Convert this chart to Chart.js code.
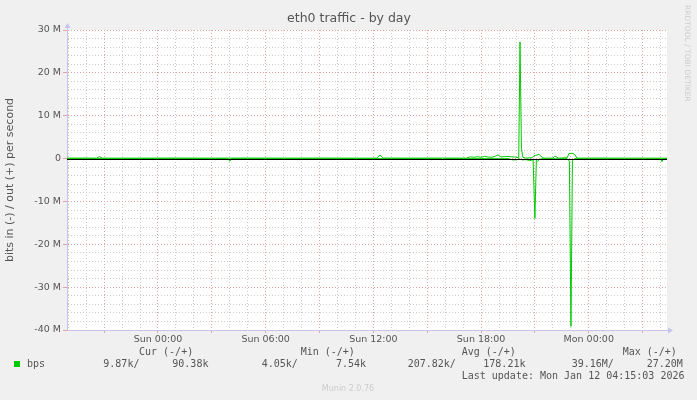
<!DOCTYPE html>
<html>
<head>
<meta charset="utf-8">
<title>eth0 traffic - by day</title>
<script src="https://cdn.jsdelivr.net/npm/chart.js@4.4.1/dist/chart.umd.min.js"></script>
<style>
    html, body { margin: 0; padding: 0; background: #f0f0f0; }
    #wrap { width: 697px; height: 400px; }
</style>
</head>
<body>
<div id="wrap"><canvas id="traffic" width="697" height="400"></canvas></div>
<script>
// hours relative to Sun 00:00, values in Mbit/s
const outHours = [-5.07, -4.0, -3.4, -3.26, -3.1, -1.0, 1.0, 3.0, 5.0, 7.0, 9.0, 11.0, 12.2, 12.37, 12.55, 14.0, 16.0, 17.2, 17.4, 17.6, 17.8, 18.0, 18.2, 18.4, 18.6, 18.8, 18.94, 19.1, 19.3, 19.5, 19.7, 19.9, 20.1, 20.17, 20.25, 20.33, 20.5, 20.7, 20.85, 20.95, 21.05, 21.23, 21.34, 21.5, 22.0, 22.1, 22.17, 22.3, 22.8, 22.9, 23.12, 23.23, 23.34, 24.5, 26.0, 28.36];
const outValues = [0.1, 0.12, 0.1, 0.45, 0.1, 0.1, 0.12, 0.1, 0.12, 0.1, 0.12, 0.1, 0.1, 0.85, 0.12, 0.1, 0.12, 0.1, 0.4, 0.3, 0.45, 0.3, 0.5, 0.35, 0.3, 0.55, 0.85, 0.4, 0.45, 0.5, 0.4, 0.35, 0.2, 27.2, 2.4, 0.3, 0.1, 0.15, 0.2, 0.7, 0.75, 1.0, 0.5, 0.1, 0.1, 0.5, 0.45, 0.1, 0.2, 1.2, 1.2, 0.9, 0.1, 0.12, 0.1, 0.09];

const inHours = [-5.07, 3.9, 4.0, 4.1, 15.8, 15.88, 15.96, 19.5, 19.75, 20.0, 20.1, 20.3, 20.5, 20.72, 20.9, 21.0, 21.08, 21.15, 21.25, 21.4, 22.8, 22.92, 23.01, 23.09, 23.2, 28.0, 28.08, 28.16, 28.36];
const inValues = [-0.02, -0.02, -0.6, -0.02, -0.02, -0.3, -0.02, -0.02, -0.3, -0.3, -0.05, -0.3, -0.25, -0.45, -0.3, -14.0, -0.4, -0.6, -0.2, -0.05, -0.05, -0.6, -39.16, -0.5, -0.05, -0.05, -0.7, -0.05, -0.05];

const xLabelHours = [0, 6, 12, 18, 24];
const xLabels = ["Sun 00:00", "Sun 06:00", "Sun 12:00", "Sun 18:00", "Mon 00:00"];
const yLabelValues = [30, 20, 10, 0, -10, -20, -30, -40];
const yLabels = ["30 M", "20 M", "10 M", "0", "-10 M", "-20 M", "-30 M", "-40 M"];

const legendHeaders = ["Cur (-/+)", "Min (-/+)", "Avg (-/+)", "Max (-/+)"];
const legendIn = ["9.87k/", "4.05k/", "207.82k/", "39.16M/"];
const legendOut = ["90.38k", "7.54k", "178.21k", "27.20M"];

const GREEN = "#00cc00";
const TEXT = "#555555";
const AXIS = "#c4c4ee";
const MAJOR = "#e3a3a3";
const MINOR = "#cbcbcb";
const MONO = "'DejaVu Sans Mono'";

const toPoints = (xs, ys) => xs.map((x, i) => ({ x: x, y: ys[i] }));

const muninDecor = {
    id: "muninDecor",
    beforeDraw(chart) {
        const { ctx, chartArea: a } = chart;
        ctx.save();
        ctx.fillStyle = "#f0f0f0";
        ctx.fillRect(0, 0, chart.width, chart.height);
        ctx.fillStyle = "#ffffff";
        ctx.fillRect(a.left, a.top, a.right - a.left, a.bottom - a.top);
        ctx.restore();
    },
    afterDatasetsDraw(chart) {
        const { ctx, chartArea: a, scales } = chart;
        const y0 = Math.round(scales.y.getPixelForValue(0)) + 0.5;
        ctx.save();
        ctx.strokeStyle = "#000000";
        ctx.lineWidth = 1;
        ctx.beginPath();
        ctx.moveTo(a.left, y0);
        ctx.lineTo(a.right, y0);
        ctx.stroke();
        ctx.restore();
    },
    afterDraw(chart) {
        const { ctx, chartArea: a } = chart;
        ctx.save();

        // axis arrows
        ctx.strokeStyle = AXIS;
        ctx.fillStyle = AXIS;
        ctx.lineWidth = 1;
        ctx.beginPath();
        ctx.moveTo(a.left + 0.5, a.top);
        ctx.lineTo(a.left + 0.5, a.top - 4);
        ctx.moveTo(a.right, a.bottom + 0.5);
        ctx.lineTo(a.right + 3, a.bottom + 0.5);
        ctx.stroke();
        ctx.beginPath();
        ctx.moveTo(a.left - 2.5, a.top - 2);
        ctx.lineTo(a.left + 3.5, a.top - 2);
        ctx.lineTo(a.left + 0.5, a.top - 7);
        ctx.closePath();
        ctx.fill();
        ctx.beginPath();
        ctx.moveTo(a.right + 1, a.bottom - 2.5);
        ctx.lineTo(a.right + 1, a.bottom + 3.5);
        ctx.lineTo(a.right + 6, a.bottom + 0.5);
        ctx.closePath();
        ctx.fill();

        // title
        ctx.fillStyle = TEXT;
        ctx.textBaseline = "middle";
        ctx.textAlign = "center";
        ctx.font = "12.5px 'DejaVu Sans'";
        ctx.fillText("eth0 traffic - by day", 349, 19);

        // watermark
        ctx.save();
        ctx.translate(687, 5);
        ctx.rotate(Math.PI / 2);
        ctx.textAlign = "left";
        ctx.fillStyle = "#cccccc";
        ctx.font = "7.5px 'DejaVu Sans'";
        ctx.fillText("RRDTOOL / TOBI OETIKER", 0, 0);
        ctx.restore();

        // legend
        ctx.fillStyle = GREEN;
        ctx.fillRect(14, 361, 6, 6);
        ctx.fillStyle = TEXT;
        ctx.textAlign = "left";
        ctx.font = `10px ${MONO}`;
        ctx.fillText("bps", 27, 364);
        const headX = [139, 300.7, 461.7, 622.7];
        const inX = [103.3, 261.7, 407.7, 571.7];
        const outX = [172.3, 336, 483.3, 646.7];
        for (let i = 0; i < 4; i++) {
            ctx.fillText(legendHeaders[i], headX[i], 352);
            ctx.fillText(legendIn[i], inX[i], 364);
            ctx.fillText(legendOut[i], outX[i], 364);
        }
        ctx.fillText("Last update: Mon Jan 12 04:15:03 2026", 461.7, 376);

        ctx.textAlign = "center";
        ctx.fillStyle = "#cccccc";
        ctx.font = "8px 'DejaVu Sans'";
        ctx.fillText("Munin 2.0.76", 348, 389);

        ctx.restore();
    },
};

Chart.defaults.font.family = "'DejaVu Sans'";
Chart.defaults.color = TEXT;

new Chart(document.getElementById("traffic"), {
    type: "line",
    data: {
        datasets: [
            {
                label: "out",
                data: toPoints(outHours, outValues),
                borderColor: GREEN,
                borderWidth: 1,
                pointRadius: 0,
                tension: 0,
            },
            {
                label: "in",
                data: toPoints(inHours, inValues),
                borderColor: GREEN,
                borderWidth: 1,
                pointRadius: 0,
                tension: 0,
            },
        ],
    },
    options: {
        responsive: false,
        animation: false,
        events: [],
        layout: { padding: { top: 30, right: 30, bottom: 50, left: 0 } },
        plugins: {
            legend: { display: false },
            tooltip: { enabled: false },
        },
        scales: {
            x: {
                type: "linear",
                min: -5.07,
                max: 28.36,
                afterFit(scale) {
                    scale.height = 20;
                },
                ticks: {
                    stepSize: 1,
                    includeBounds: false,
                    autoSkip: false,
                    maxRotation: 0,
                    maxTicksLimit: 100,
                    padding: 1,
                    font: { size: 9.5 },
                    color: TEXT,
                    callback: (v) => {
                        const i = xLabelHours.indexOf(v);
                        return i >= 0 ? xLabels[i] : "";
                    },
                },
                grid: {
                    color: (c) => (c.tick && c.tick.value % 3 === 0 ? MAJOR : MINOR),
                    tickColor: (c) => (c.tick && c.tick.value % 3 === 0 ? MAJOR : "rgba(0,0,0,0)"),
                    lineWidth: 1,
                    tickLength: 3,
                },
                border: { display: true, color: AXIS, width: 1, dash: [1, 2] },
            },
            y: {
                min: -40,
                max: 30,
                afterFit(scale) {
                    scale.width = 67;
                },
                title: {
                    display: true,
                    text: "bits in (-) / out (+) per second",
                    font: { size: 11 },
                    color: TEXT,
                    padding: { top: 4, bottom: 0 },
                },
                ticks: {
                    stepSize: 2,
                    autoSkip: false,
                    maxTicksLimit: 100,
                    padding: 2,
                    font: { size: 9.5 },
                    color: TEXT,
                    callback: (v) => {
                        const i = yLabelValues.indexOf(v);
                        return i >= 0 ? yLabels[i] : "";
                    },
                },
                grid: {
                    color: (c) => (c.tick && c.tick.value % 10 === 0 ? MAJOR : MINOR),
                    tickColor: (c) => (c.tick && c.tick.value % 10 === 0 ? MAJOR : "rgba(0,0,0,0)"),
                    lineWidth: 1,
                    tickLength: 4,
                },
                border: { display: true, color: AXIS, width: 1, dash: [1, 2] },
            },
        },
    },
    plugins: [muninDecor],
});
</script>
</body>
</html>
